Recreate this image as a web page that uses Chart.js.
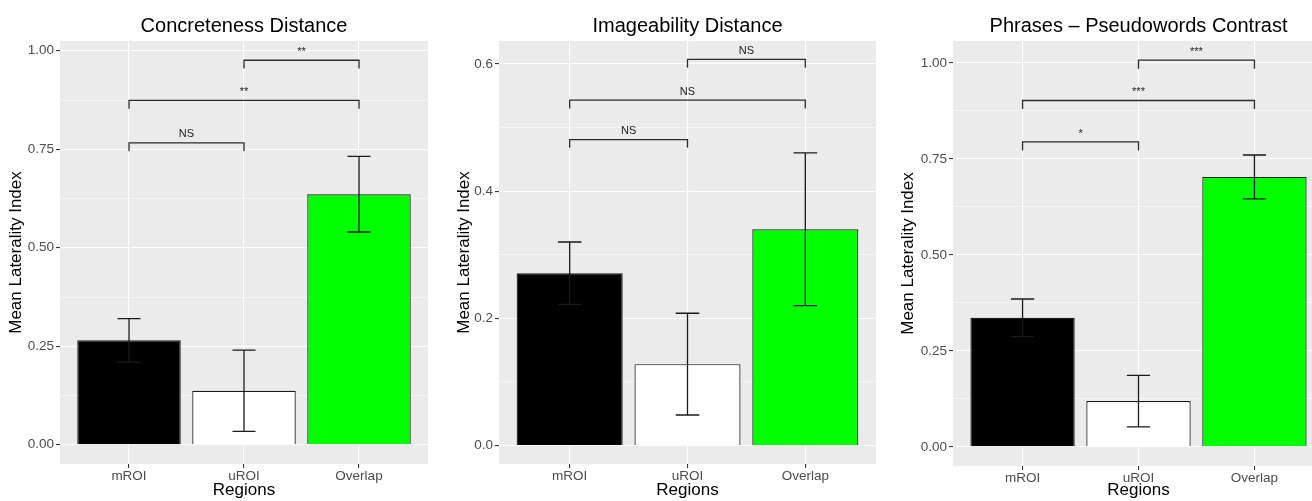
<!DOCTYPE html>
<html>
<head>
<meta charset="utf-8">
<script src="https://cdn.jsdelivr.net/npm/chart.js@4"></script>
<style>
  html, body { margin: 0; padding: 0; background: #fff; overflow: hidden; }
  body { width: 1312px; height: 501px; position: relative; }
  .panel { position: absolute; top: 0; height: 501px; }
</style>
</head>
<body>
<div class="panel" style="left:0;width:440px"><canvas id="chart1"></canvas></div>
<div class="panel" style="left:440px;width:440px"><canvas id="chart2"></canvas></div>
<div class="panel" style="left:880px;width:450px"><canvas id="chart3"></canvas></div>
<script>
const regions = ['mROI', 'uROI', 'Overlap'];
const barColors = ['#000000', '#ffffff', '#00ff00'];

// means and standard errors
const concMean = [0.265, 0.137, 0.636];
const concSe = [0.055, 0.103, 0.096];
const imagMean = [0.271, 0.128, 0.340];
const imagSe = [0.049, 0.080, 0.120];
const phrMean = [0.336, 0.119, 0.703];
const phrSe = [0.049, 0.067, 0.057];

// significance brackets (pairs of region positions)
const sigPairs = [[1, 2], [1, 3], [2, 3]];
const concSigY = [0.766, 0.874, 0.976];
const concSigLabels = ['NS', '**', '**'];
const imagSigY = [0.481, 0.543, 0.607];
const imagSigLabels = ['NS', 'NS', 'NS'];
const phrSigY = [0.794, 0.902, 1.007];
const phrSigLabels = ['*', '***', '***'];

// y axis ticks
const concTicks = [0, 0.25, 0.5, 0.75, 1];
const imagTicks = [0, 0.2, 0.4, 0.6];
const phrTicks = [0, 0.25, 0.5, 0.75, 1];

const FONT = "'Liberation Sans', Arial, Helvetica, sans-serif";

const panelBg = {
    id: 'panelBg',
    beforeDraw(chart) {
        const a = chart.chartArea;
        const c = chart.ctx;
        c.save();
        c.fillStyle = '#ebebeb';
        c.fillRect(a.left, a.top, a.right - a.left, a.bottom - a.top);
        c.restore();
    }
};

const extras = {
    id: 'extras',
    afterDatasetsDraw(chart, args, opts) {
        const c = chart.ctx;
        const xs = chart.scales.x, ys = chart.scales.y;
        const a = chart.chartArea;
        c.save();
        // error bars
        c.strokeStyle = '#1a1a1a';
        c.lineWidth = 1.3;
        opts.mean.forEach((m, i) => {
            const x = xs.getPixelForValue(i + 1);
            const x0 = xs.getPixelForValue(i + 1 - 0.1);
            const x1 = xs.getPixelForValue(i + 1 + 0.1);
            const yHi = ys.getPixelForValue(m + opts.se[i]);
            const yLo = ys.getPixelForValue(m - opts.se[i]);
            c.beginPath();
            c.moveTo(x, yLo); c.lineTo(x, yHi);
            c.moveTo(x0, yHi); c.lineTo(x1, yHi);
            c.moveTo(x0, yLo); c.lineTo(x1, yLo);
            c.stroke();
        });
        // brackets
        c.strokeStyle = '#2b2b2b';
        c.lineWidth = 1.3;
        c.fillStyle = '#1a1a1a';
        c.font = '11px ' + FONT;
        c.textAlign = 'center';
        c.textBaseline = 'bottom';
        sigPairs.forEach((p, k) => {
            const xa = xs.getPixelForValue(p[0]);
            const xb = xs.getPixelForValue(p[1]);
            const y = ys.getPixelForValue(opts.sigY[k]);
            const yt = ys.getPixelForValue(opts.sigY[k] - opts.tip);
            c.beginPath();
            c.moveTo(xa, yt); c.lineTo(xa, y); c.lineTo(xb, y); c.lineTo(xb, yt);
            c.stroke();
            c.fillText(opts.sigLabels[k], (xa + xb) / 2, y - 3);
        });
        // title centred on the panel
        c.fillStyle = '#000';
        c.font = '20px ' + FONT;
        c.textBaseline = 'alphabetic';
        c.fillText(opts.title, (a.left + a.right) / 2, 31.5);
        c.restore();
    }
};

function makePanel(id, title, mean, se, sigY, sigLabels, tip, yTicks, yMin, yMax, dec, yW, padR, xH, yTitlePad) {
    const step = yTicks[1] - yTicks[0];
    return new Chart(document.getElementById(id), {
        type: 'bar',
        data: {
            datasets: [{
                data: mean.map((v, i) => ({ x: i + 1, y: v })),
                backgroundColor: barColors,
                borderColor: '#1a1a1a',
                borderWidth: 1.2,
                barPercentage: 0.9,
                categoryPercentage: 1.0
            }]
        },
        options: {
            responsive: true,
            maintainAspectRatio: false,
            devicePixelRatio: 1,
            animation: false,
            layout: { padding: { top: 41, right: padR, left: 0, bottom: 0 } },
            plugins: {
                legend: { display: false },
                tooltip: { enabled: false },
                extras: { title: title, mean: mean, se: se, sigY: sigY, sigLabels: sigLabels, tip: tip }
            },
            scales: {
                x: {
                    type: 'linear',
                    min: 0.4,
                    max: 3.6,
                    offset: false,
                    afterBuildTicks: s => { s.ticks = regions.map((r, i) => ({ value: i + 1 })); },
                    afterFit: s => { s.height = xH; },
                    grid: { offset: false, color: '#ffffff', lineWidth: 1.1, tickLength: 4, tickColor: '#333333' },
                    border: { display: false },
                    ticks: {
                        autoSkip: false,
                        maxRotation: 0,
                        padding: 0,
                        color: '#4d4d4d',
                        font: { family: FONT, size: 13.5 },
                        callback: v => regions[Math.round(v) - 1]
                    },
                    title: {
                        display: true,
                        text: 'Regions',
                        color: '#000',
                        font: { family: FONT, size: 17 },
                        padding: { top: 0, bottom: 0 }
                    }
                },
                y: {
                    min: yMin,
                    max: yMax,
                    afterBuildTicks: s => {
                        const list = yTicks.map(v => ({ value: v, major: true }));
                        yTicks.forEach(v => {
                            [v - step / 2, v + step / 2].forEach(m => {
                                if (m > yMin && m < yMax && !list.some(t => Math.abs(t.value - m) < 1e-9)) {
                                    list.push({ value: m, major: false });
                                }
                            });
                        });
                        list.sort((p, q) => p.value - q.value);
                        s.ticks = list;
                    },
                    afterFit: s => { s.width = yW; },
                    grid: {
                        color: '#ffffff',
                        lineWidth: c => (c.tick && c.tick.major ? 1.1 : 0.55),
                        tickLength: 4,
                        tickColor: c => (c.tick && c.tick.major ? '#333333' : 'rgba(0,0,0,0)')
                    },
                    border: { display: false },
                    ticks: {
                        autoSkip: false,
                        padding: 2,
                        color: '#4d4d4d',
                        font: { family: FONT, size: 13.5 },
                        callback: function (v, i, ticks) {
                            return ticks[i].major ? v.toFixed(dec) : '';
                        }
                    },
                    title: {
                        display: true,
                        text: 'Mean Laterality Index',
                        color: '#000',
                        font: { family: FONT, size: 17 },
                        padding: { top: yTitlePad, bottom: 0 }
                    }
                }
            }
        },
        plugins: [panelBg, extras]
    });
}

makePanel('chart1', 'Concreteness Distance', concMean, concSe, concSigY, concSigLabels, 0.021,
    concTicks, -0.0488, 1.0248, 2, 60, 12, 37, 6);
makePanel('chart2', 'Imageability Distance', imagMean, imagSe, imagSigY, imagSigLabels, 0.013,
    imagTicks, -0.029, 0.636, 1, 59, 4, 37, 14);
makePanel('chart3', 'Phrases \u2013 Pseudowords Contrast', phrMean, phrSe, phrSigY, phrSigLabels, 0.022,
    phrTicks, -0.050, 1.057, 2, 73, 6, 35, 18);
</script>
</body>
</html>
